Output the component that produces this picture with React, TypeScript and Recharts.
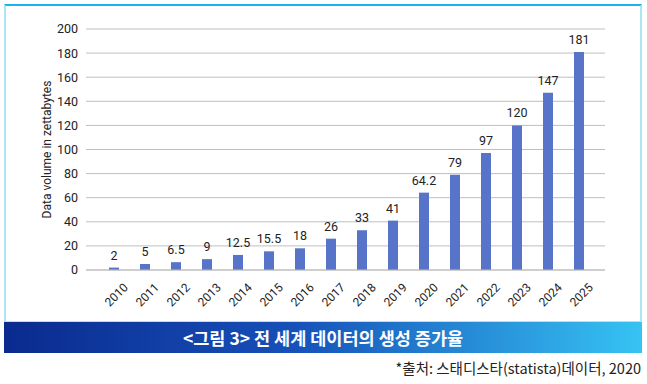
import React from "react";
import { Bar, BarChart, CartesianGrid, LabelList, XAxis, YAxis, Label } from "recharts";

const years = ["2010", "2011", "2012", "2013", "2014", "2015", "2016", "2017", "2018", "2019", "2020", "2021", "2022", "2023", "2024", "2025"];
const volumes = [2, 5, 6.5, 9, 12.5, 15.5, 18, 26, 33, 41, 64.2, 79, 97, 120, 147, 181];
const yTicks = [0, 20, 40, 60, 80, 100, 120, 140, 160, 180, 200];

const data = years.map((year, i) => ({ year, volume: volumes[i] }));

const FONT = "Roboto, 'Noto Sans', sans-serif";
const KR_FONT = "'Noto Sans CJK KR', 'Noto Sans', sans-serif";

function YearTick(props: any): JSX.Element {
  const { x, y, payload } = props;
  return (
    <g transform={`translate(${x},${y})`}>
      <text
        x={9}
        y={4}
        textAnchor="end"
        dominantBaseline="hanging"
        transform="rotate(-45 9 4)"
        fill="#222"
        fontSize={12}
        fontFamily={FONT}
      >
        {payload.value}
      </text>
    </g>
  );
}

function AxisTitle(props: any): JSX.Element {
  const { viewBox } = props;
  const cx = 47;
  const cy = viewBox.y + viewBox.height / 2;
  return (
    <text
      x={cx}
      y={cy}
      transform={`rotate(-90 ${cx} ${cy})`}
      textAnchor="middle"
      dominantBaseline="central"
      fill="#222"
      fontSize={12}
      fontFamily={FONT}
    >
      Data volume in zettabytes
    </text>
  );
}

export default function App(): JSX.Element {
  return (
    <div style={{ position: "absolute", left: 0, top: 0, width: 647, height: 384, background: "#fff", overflow: "hidden" }}>
      <div
        style={{
          position: "absolute",
          left: 4,
          top: 4,
          width: 634,
          height: 315,
          border: "2px solid #aee4f8",
          borderTop: "2px solid #1cb3ec"
        }}
      />
      <div style={{ position: "absolute", left: 0, top: 0 }}>
        <BarChart width={647} height={320} data={data} margin={{ top: 29, right: 42, bottom: 0, left: 0 }}>
          <CartesianGrid vertical={false} stroke="#bfbfbf" strokeWidth={1} />
          <XAxis
            dataKey="year"
            height={50}
            axisLine={{ stroke: "#bfbfbf" }}
            tickLine={false}
            interval={0}
            padding={{ left: 12, right: 11 }}
            tick={<YearTick />}
          />
          <YAxis
            width={86}
            domain={[0, 200]}
            ticks={yTicks}
            axisLine={false}
            tickLine={false}
            tick={{ fill: "#222", fontSize: 12.5, fontFamily: FONT }}
          >
            <Label content={<AxisTitle />} />
          </YAxis>
          <Bar dataKey="volume" fill="#5774c8" barSize={10} isAnimationActive={false}>
            <LabelList dataKey="volume" position="top" offset={8} fill="#222" fontSize={12.5} fontFamily={FONT} />
          </Bar>
        </BarChart>
      </div>
      <div
        style={{
          position: "absolute",
          left: 4,
          top: 322,
          width: 638,
          height: 31,
          background: "linear-gradient(90deg, #0a2a8e 0%, #1650b8 45%, #36c3f3 100%)",
          color: "#fff",
          fontFamily: KR_FONT,
          fontWeight: 700,
          fontSize: 17.5,
          lineHeight: "31px",
          textAlign: "center"
        }}
      >
        {"<그림 3> 전 세계 데이터의 생성 증가율"}
      </div>
      <div
        style={{
          position: "absolute",
          right: 6,
          top: 358,
          fontFamily: KR_FONT,
          fontSize: 14.5,
          lineHeight: "20px",
          color: "#222"
        }}
      >
        *출처: 스태디스타(statista)데이터, 2020
      </div>
    </div>
  );
}
